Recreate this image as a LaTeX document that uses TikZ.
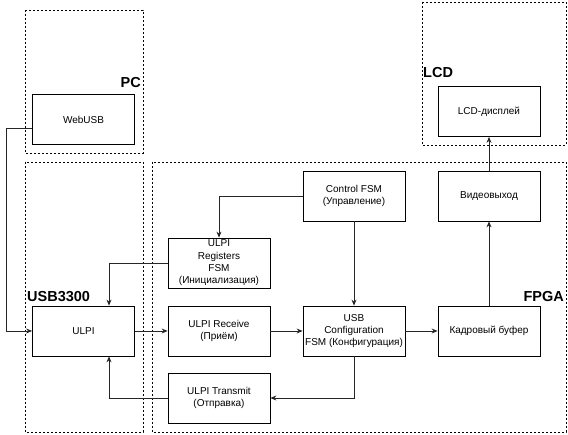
\documentclass[tikz,border=0pt]{standalone}
\usepackage{fontspec}
\setmainfont{Liberation Sans}
\usetikzlibrary{arrows.meta}
\begin{document}
\begin{tikzpicture}[x=1pt,y=-1pt,
  blk/.style={draw=black,line width=0.8pt,fill=white,minimum width=102pt,minimum height=50pt,align=center,inner sep=1pt,font=\fontsize{10}{12.3}\selectfont},
  grp/.style={draw=black,line width=0.8pt,dash pattern=on 2pt off 2pt},
  grplabel/.style={font=\fontsize{14.5}{16}\selectfont\bfseries,inner sep=0pt},
  conn/.style={draw=black!85,line width=0.8pt,-{Stealth[length=6pt,width=5pt,inset=2pt]}}]
\useasboundingbox (0,0) rectangle (568,435);
\fill[white] (0,0) rectangle (568,435);
% groups
\draw[grp] (25,10) rectangle (143,153);
\draw[grp] (422,2) rectangle (566,145);
\draw[grp] (25,162) rectangle (143,432);
\draw[grp] (152,162) rectangle (566,432);
\node[grplabel,anchor=base east] (lpc) at (141,88) {PC};
\node[grplabel,anchor=base west] (llcd) at (423,78) {LCD};
\node[grplabel,anchor=base west] (lusb) at (27,302) {USB3300};
\node[grplabel,anchor=base east] (lfpga) at (564,302) {FPGA};
% blocks
\node[blk] (web) at (83.5,119.5) {WebUSB};
\node[blk] (lcd) at (489,111.5) {LCD-дисплей};
\node[blk] (ctrl) at (354,196) {Control FSM\\(Управление)};
\node[blk] (video) at (489,196) {Видеовыход};
\node[blk] (regs) at (219,263) {ULPI\\Registers\\FSM\\(Инициализация)};
\node[blk] (ulpi) at (83.5,331) {ULPI};
\node[blk] (recv) at (219,331) {ULPI Receive\\(Приём)};
\node[blk] (cfg) at (354,331) {USB\\Configuration\\FSM (Конфигурация)};
\node[blk] (frame) at (489,331) {Кадровый буфер};
\node[blk] (tx) at (219,398) {ULPI Transmit\\(Отправка)};
% connectors
\draw[conn] ([yshift=-9pt]web.west) -- ++(-26,0) |- (ulpi.west);
\draw[conn] (ctrl.west) -| (regs.north);
\draw[conn] (regs.west) -| ([xshift=25.5pt]ulpi.north);
\draw[conn] (ulpi.east) -- (recv.west);
\draw[conn] (recv.east) -- (cfg.west);
\draw[conn] (ctrl.south) -- (cfg.north);
\draw[conn] (cfg.east) -- (frame.west);
\draw[conn] (frame.north) -- (video.south);
\draw[conn] (video.north) -- (lcd.south);
\draw[conn] (cfg.south) |- (tx.east);
\draw[conn] (tx.west) -| ([xshift=25.5pt]ulpi.south);
\end{tikzpicture}
\end{document}
